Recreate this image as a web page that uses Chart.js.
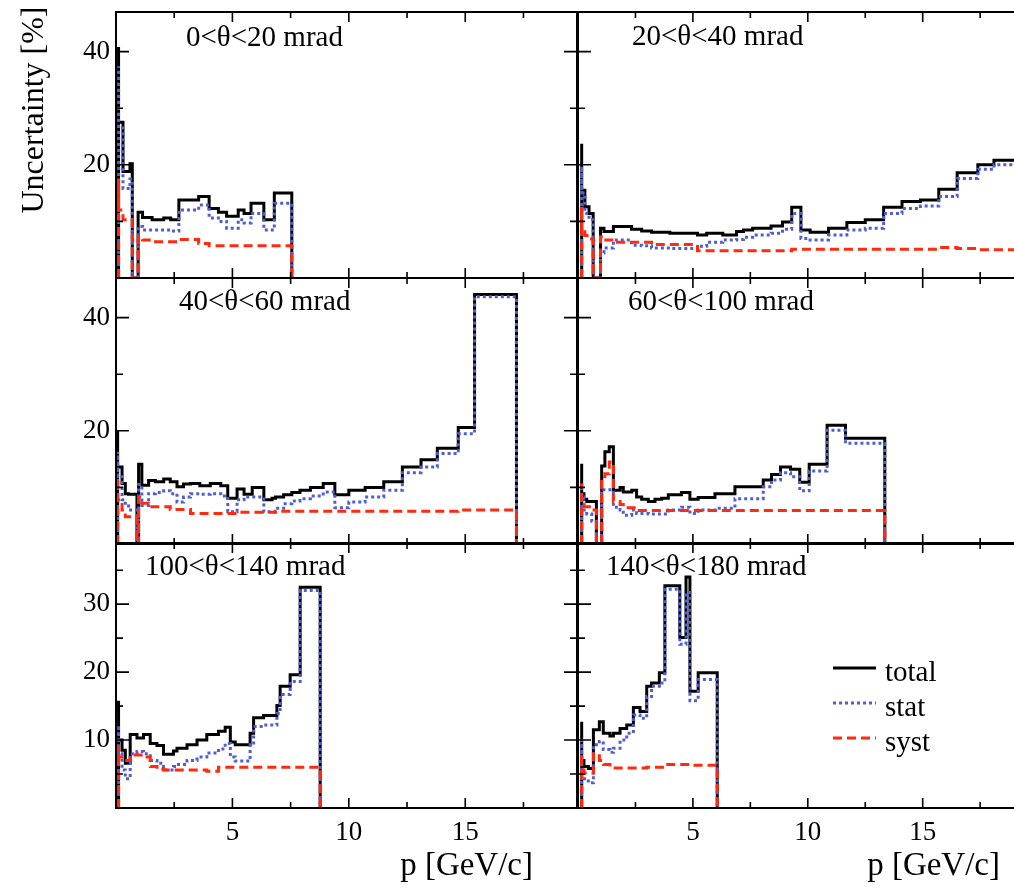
<!DOCTYPE html>
<html>
<head>
<meta charset="utf-8">
<script src="https://cdn.jsdelivr.net/npm/chart.js@4.4.0/dist/chart.umd.min.js"></script>
<style>
  html, body { margin: 0; padding: 0; background: #fff; overflow: hidden; }
  #wrap { position: relative; width: 1040px; height: 888px; }
  #wrap canvas { position: absolute; left: 0; top: 0; }
</style>
</head>
<body>
<div id="wrap"></div>
<script>
// bin edges in p [GeV/c] and uncertainties in % for each theta slice
const edges_0_20 = [0.11, 0.3, 0.6, 0.7, 0.95, 1.14, 1.55, 2.05, 2.35, 2.7, 3.55, 4.0, 4.4, 4.75, 5.25, 5.5, 5.8, 6.35, 6.8, 7.1, 7.55];
const total_0_20 = [40.8, 27.5, 18.8, 20.2, 0, 11.6, 10.7, 10.3, 10.6, 10.3, 13.8, 14.4, 12.3, 11.6, 10.9, 12.0, 11.4, 13.2, 10.3, 15.0];
const stat_0_20 = [37.4, 26.5, 15.8, 17.5, 0, 9.1, 8.5, 8.5, 8.5, 8.3, 12.0, 12.9, 10.6, 10.0, 8.8, 10.3, 9.7, 11.4, 8.5, 13.2];
const syst_0_20 = [17.6, 12.0, 10.3, 10.3, 0, 7.2, 6.7, 6.4, 6.4, 6.4, 6.8, 6.1, 5.7, 5.7, 5.7, 5.7, 5.7, 5.7, 5.7, 5.7];

const edges_20_40 = [0.16, 0.3, 0.48, 0.66, 0.98, 1.13, 1.54, 2.33, 2.77, 3.2, 4.0, 5.2, 5.6, 6.3, 6.9, 7.2, 7.6, 8.4, 8.9, 9.3, 9.7, 10.1, 10.9, 11.7, 12.5, 13.3, 14.1, 14.9, 15.7, 16.5, 17.4, 18.1, 18.9, 19.8];
const total_20_40 = [23.7, 15.5, 12.6, 11.4, 0, 8.8, 8.2, 9.1, 8.6, 8.3, 8.1, 7.9, 7.6, 7.9, 7.6, 8.2, 8.5, 8.8, 9.2, 9.9, 12.5, 8.5, 8.1, 8.8, 9.8, 10.3, 12.5, 13.5, 13.8, 15.7, 18.6, 20.0, 20.8];
const stat_20_40 = [19.7, 15.0, 11.4, 10.3, 0, 4.4, 5.3, 6.7, 5.8, 5.7, 5.3, 5.2, 5.6, 6.3, 6.7, 6.8, 7.2, 7.6, 7.9, 8.6, 11.4, 7.0, 6.7, 7.6, 8.5, 8.8, 11.4, 12.3, 12.7, 14.4, 17.6, 19.2, 20.0];
const syst_20_40 = [12.6, 8.5, 7.5, 6.9, 0, 7.3, 6.7, 6.3, 6.3, 6.3, 5.9, 5.9, 4.8, 4.8, 4.8, 4.8, 4.8, 4.8, 4.8, 4.8, 5.1, 5.1, 5.1, 5.1, 5.1, 5.1, 5.1, 5.1, 5.1, 5.4, 5.2, 5.0, 5.0];

const edges_40_60 = [0.07, 0.26, 0.4, 0.54, 0.9, 0.97, 1.11, 1.4, 1.69, 2.05, 2.33, 2.62, 2.9, 3.2, 3.6, 4.05, 4.5, 4.8, 5.2, 5.5, 5.85, 6.35, 6.7, 6.85, 7.2, 7.55, 7.9, 8.35, 8.9, 9.4, 10.0, 10.7, 11.5, 12.3, 13.1, 13.8, 14.7, 15.4, 16.3, 17.2];
const total_40_60 = [20.1, 13.6, 10.7, 8.9, 8.8, 0, 14.1, 10.4, 11.2, 11.0, 11.5, 11.0, 10.1, 10.6, 10.7, 10.3, 10.7, 10.3, 8.1, 9.7, 8.8, 10.0, 7.8, 8.1, 8.3, 8.7, 9.1, 9.5, 10.0, 10.7, 8.7, 9.5, 10.0, 11.0, 13.6, 14.9, 16.9, 20.6, 44.1];
const stat_40_60 = [16.3, 11.9, 7.8, 7.2, 6.0, 0, 10.5, 6.8, 8.9, 9.1, 9.4, 8.9, 7.4, 8.3, 8.9, 8.8, 8.9, 8.5, 5.7, 7.8, 8.3, 8.3, 5.7, 5.7, 6.3, 7.1, 7.6, 8.0, 8.5, 9.2, 6.4, 7.4, 8.3, 9.5, 12.6, 13.6, 16.0, 19.5, 43.7];
const syst_40_60 = [11.9, 7.8, 6.0, 4.8, 4.8, 0, 8.3, 7.2, 6.6, 6.6, 6.6, 6.1, 6.1, 6.1, 5.4, 5.4, 5.4, 5.4, 5.4, 5.6, 5.6, 5.6, 5.6, 5.6, 5.8, 5.8, 5.8, 5.8, 5.8, 5.8, 5.8, 5.8, 5.8, 5.8, 5.8, 5.8, 5.8, 6.0, 6.0];

const edges_60_100 = [0.16, 0.26, 0.38, 0.6, 0.8, 1.03, 1.17, 1.36, 1.54, 1.83, 1.97, 2.34, 2.55, 2.77, 3.06, 3.35, 3.64, 3.93, 4.5, 4.87, 5.23, 5.96, 6.83, 8.06, 8.42, 8.81, 9.25, 9.65, 10.06, 10.84, 11.64, 12.55, 13.35];
const total_60_100 = [14.2, 8.9, 7.9, 7.5, 7.5, 0, 13.8, 16.3, 17.2, 9.5, 10.0, 9.2, 9.5, 8.3, 7.9, 7.5, 7.9, 8.1, 8.7, 9.1, 7.9, 8.2, 8.9, 10.1, 11.3, 12.3, 13.6, 13.2, 10.9, 14.1, 21.0, 18.7];
const stat_60_100 = [9.8, 8.3, 6.0, 5.3, 4.0, 0, 9.6, 9.6, 9.6, 6.5, 6.0, 5.1, 6.0, 5.4, 5.4, 5.3, 5.3, 5.3, 6.0, 6.5, 5.4, 6.0, 6.3, 8.0, 10.1, 11.3, 12.6, 11.9, 9.4, 12.9, 20.1, 17.8];
const syst_60_100 = [10.7, 7.8, 6.6, 6.6, 6.0, 0, 11.9, 12.4, 14.5, 7.5, 7.0, 6.4, 6.4, 5.9, 5.9, 5.9, 5.9, 5.9, 5.9, 5.9, 5.9, 5.9, 5.9, 5.9, 5.9, 5.9, 5.9, 5.9, 5.9, 5.9, 5.9, 5.9];

const edges_100_140 = [0.11, 0.26, 0.4, 0.61, 0.9, 1.18, 1.47, 1.76, 2.04, 2.47, 2.62, 3.05, 3.48, 3.9, 4.4, 4.69, 4.91, 5.12, 5.76, 5.91, 6.34, 6.91, 7.05, 7.48, 7.91, 8.27, 8.77];
const total_100_140 = [15.8, 10.0, 8.5, 6.6, 10.8, 10.3, 10.8, 9.5, 9.2, 7.9, 8.4, 8.8, 9.3, 10.0, 10.8, 11.3, 11.9, 9.7, 9.3, 11.0, 13.3, 13.6, 15.1, 17.9, 19.6, 32.5];
const stat_100_140 = [12.2, 8.0, 5.6, 4.3, 8.0, 8.3, 8.0, 7.0, 6.6, 5.6, 6.1, 6.4, 7.0, 7.5, 8.1, 8.7, 9.5, 7.5, 6.9, 9.3, 12.0, 12.2, 13.9, 16.7, 18.6, 32.0];
const syst_100_140 = [9.2, 7.5, 7.0, 7.0, 7.8, 7.8, 7.5, 6.1, 5.7, 5.6, 5.6, 5.6, 5.6, 5.6, 5.4, 6.0, 6.0, 6.0, 6.0, 6.0, 6.0, 6.0, 6.0, 6.0, 6.0, 6.0];

const edges_140_180 = [0.16, 0.26, 0.45, 0.67, 0.93, 1.1, 1.39, 1.54, 1.83, 2.12, 2.41, 2.7, 2.99, 3.2, 3.54, 3.78, 4.43, 4.7, 4.87, 5.23, 5.67, 6.06];
const total_140_180 = [12.7, 7.0, 6.1, 5.8, 11.5, 12.7, 11.0, 10.6, 11.0, 11.7, 12.2, 14.8, 14.2, 17.9, 18.4, 19.9, 32.7, 25.1, 34.0, 17.2, 19.9];
const stat_140_180 = [10.0, 5.6, 4.3, 3.7, 9.3, 9.8, 8.6, 8.2, 8.8, 10.0, 11.0, 13.7, 13.2, 16.4, 17.9, 18.4, 32.2, 24.1, 31.7, 15.8, 18.9];
const syst_140_180 = [8.0, 5.6, 5.1, 5.1, 8.0, 7.0, 6.4, 5.9, 5.9, 5.9, 5.9, 5.9, 5.9, 6.0, 6.0, 6.0, 6.4, 6.4, 6.4, 6.3, 6.3];

const xMajorTicks = [5, 10, 15];
const xMinorTicks = [2.5, 7.5, 12.5, 17.5];
const yMajorUpper = [20, 40];
const yMinorUpper = [10, 30];
const yMajorLower = [10, 20, 30];
const yMinorLower = [5, 15, 25, 35];
const seriesNames = ["total", "stat", "syst"];

const SERIF = "'Liberation Serif', 'DejaVu Serif', serif";
const colTotal = "#000000";
const colStat = "#4f5fcf";
const colSyst = "#ff2a10";

// chart areas in page pixels
const cols = [{ left: 116, right: 577 }, { left: 578, right: 1033 }];
const rows = [
  { top: 12, bottom: 278, yMax: 47, major: yMajorUpper, minor: yMinorUpper },
  { top: 278, bottom: 544, yMax: 47, major: yMajorUpper, minor: yMinorUpper },
  { top: 543, bottom: 808, yMax: 39, major: yMajorLower, minor: yMinorLower },
];
const W = 1040, H = 888;
const AXW = 80, AXH = 50; // room kept for tick labels

const panels = [
  { row: 0, col: 0, title: "0<θ<20 mrad", tx: 70, ty: 26, edges: edges_0_20, total: total_0_20, stat: stat_0_20, syst: syst_0_20 },
  { row: 0, col: 1, title: "20<θ<40 mrad", tx: 54, ty: 25, edges: edges_20_40, total: total_20_40, stat: stat_20_40, syst: syst_20_40 },
  { row: 1, col: 0, title: "40<θ<60 mrad", tx: 63, ty: 24, edges: edges_40_60, total: total_40_60, stat: stat_40_60, syst: syst_40_60 },
  { row: 1, col: 1, title: "60<θ<100 mrad", tx: 50, ty: 24, edges: edges_60_100, total: total_60_100, stat: stat_60_100, syst: syst_60_100 },
  { row: 2, col: 0, title: "100<θ<140 mrad", tx: 29, ty: 24, edges: edges_100_140, total: total_100_140, stat: stat_100_140, syst: syst_100_140 },
  { row: 2, col: 1, title: "140<θ<180 mrad", tx: 28, ty: 24, edges: edges_140_180, total: total_140_180, stat: stat_140_180, syst: syst_140_180, legend: true },
];

function stepPoints(edges, vals) {
  const pts = [{ x: edges[0], y: 0 }];
  vals.forEach((v, i) => pts.push({ x: edges[i], y: v }));
  pts.push({ x: edges[edges.length - 1], y: vals[vals.length - 1] });
  pts.push({ x: edges[edges.length - 1], y: 0 });
  return pts;
}

const decor = {
  id: "decor",
  afterDatasetsDraw(chart, args, o) {
    const { ctx, chartArea: a } = chart;
    const x = chart.scales.x, y = chart.scales.y;
    ctx.save();
    ctx.strokeStyle = "#000";
    ctx.lineWidth = 2;
    ctx.strokeRect(a.left, a.top, a.right - a.left, a.bottom - a.top);

    ctx.lineWidth = 1.6;
    ctx.beginPath();
    const xt = (vals, len) => vals.forEach((v) => {
      const px = x.getPixelForValue(v);
      ctx.moveTo(px, a.bottom); ctx.lineTo(px, a.bottom - len);
      ctx.moveTo(px, a.top); ctx.lineTo(px, a.top + len);
    });
    const yt = (vals, len) => vals.forEach((v) => {
      const py = y.getPixelForValue(v);
      ctx.moveTo(a.left, py); ctx.lineTo(a.left + len, py);
      ctx.moveTo(a.right, py); ctx.lineTo(a.right - len, py);
    });
    xt(xMajorTicks, 10); xt(xMinorTicks, 6);
    yt(o.yMajor, 13); yt(o.yMinor, 7);
    ctx.stroke();

    ctx.fillStyle = "#000";
    ctx.font = "29px " + SERIF;
    ctx.textAlign = "left";
    ctx.textBaseline = "middle";
    ctx.fillText(o.title, a.left + o.tx, a.top + o.ty);

    if (o.xTitle) {
      ctx.font = "33px " + SERIF;
      ctx.textAlign = "right";
      ctx.fillText("p [GeV/c]", a.right - o.xTitleOff, 866);
    }
    if (o.yTitle) {
      ctx.font = "32px " + SERIF;
      ctx.translate(35, 110);
      ctx.rotate(-Math.PI / 2);
      ctx.textAlign = "center";
      ctx.fillText("Uncertainty [%]", 0, 0);
      ctx.setTransform(1, 0, 0, 1, 0, 0);
    }
    if (o.legend) {
      const order = [2, 1, 0];
      ctx.font = "29px " + SERIF;
      ctx.textAlign = "left";
      order.forEach((di, k) => {
        const ds = chart.data.datasets[di];
        const ly = a.top + 125 + k * 35;
        ctx.beginPath();
        ctx.strokeStyle = ds.borderColor;
        ctx.lineWidth = ds.borderWidth;
        ctx.setLineDash(ds.borderDash || []);
        ctx.moveTo(a.left + 255, ly);
        ctx.lineTo(a.left + 298, ly);
        ctx.stroke();
        ctx.setLineDash([]);
        ctx.fillText(seriesNames[k], a.left + 307, ly + 5);
      });
    }
    ctx.restore();
  },
};

Chart.defaults.font.family = SERIF;
Chart.defaults.color = "#000";

const wrap = document.getElementById("wrap");
panels.forEach((p) => {
  const c = cols[p.col], r = rows[p.row];
  const cv = document.createElement("canvas");
  cv.width = W; cv.height = H;
  wrap.appendChild(cv);
  const zeroPad = (s) => { s.paddingTop = 0; s.paddingBottom = 0; s.paddingLeft = 0; s.paddingRight = 0; };
  new Chart(cv.getContext("2d"), {
    type: "line",
    data: {
      datasets: [
        { label: "syst", data: stepPoints(p.edges, p.syst), borderColor: colSyst, borderWidth: 3, borderDash: [9, 5] },
        { label: "stat", data: stepPoints(p.edges, p.stat), borderColor: colStat, borderWidth: 3, borderDash: [3, 3] },
        { label: "total", data: stepPoints(p.edges, p.total), borderColor: colTotal, borderWidth: 3 },
      ],
    },
    options: {
      responsive: false,
      animation: false,
      devicePixelRatio: 1,
      layout: { padding: { left: c.left - AXW, right: W - c.right, top: r.top, bottom: H - r.bottom - AXH } },
      elements: { point: { radius: 0 }, line: { stepped: "after", tension: 0, fill: false } },
      events: [],
      scales: {
        x: {
          type: "linear", min: 0, max: 19.8,
          grid: { display: false, drawTicks: false },
          border: { display: false },
          ticks: { display: p.row === 2, font: { size: 27 }, padding: 9, maxRotation: 0, autoSkip: false },
          afterBuildTicks: (s) => { s.ticks = xMajorTicks.map((v) => ({ value: v })); },
          afterFit: (s) => { s.height = AXH; zeroPad(s); },
        },
        y: {
          type: "linear", min: 0, max: r.yMax,
          grid: { display: false, drawTicks: false },
          border: { display: false },
          ticks: { display: p.col === 0, font: { size: 27 }, padding: 6, autoSkip: false },
          afterBuildTicks: (s) => { s.ticks = r.major.map((v) => ({ value: v })); },
          afterFit: (s) => { s.width = AXW; zeroPad(s); },
        },
      },
      plugins: {
        legend: { display: false },
        tooltip: { enabled: false },
        decor: {
          title: p.title, tx: p.tx, ty: p.ty,
          yMajor: r.major, yMinor: r.minor,
          xTitle: p.row === 2, xTitleOff: p.col === 0 ? 44 : 33,
          yTitle: p.row === 0 && p.col === 0,
          legend: !!p.legend,
        },
      },
    },
    plugins: [decor],
  });
});
</script>
</body>
</html>
